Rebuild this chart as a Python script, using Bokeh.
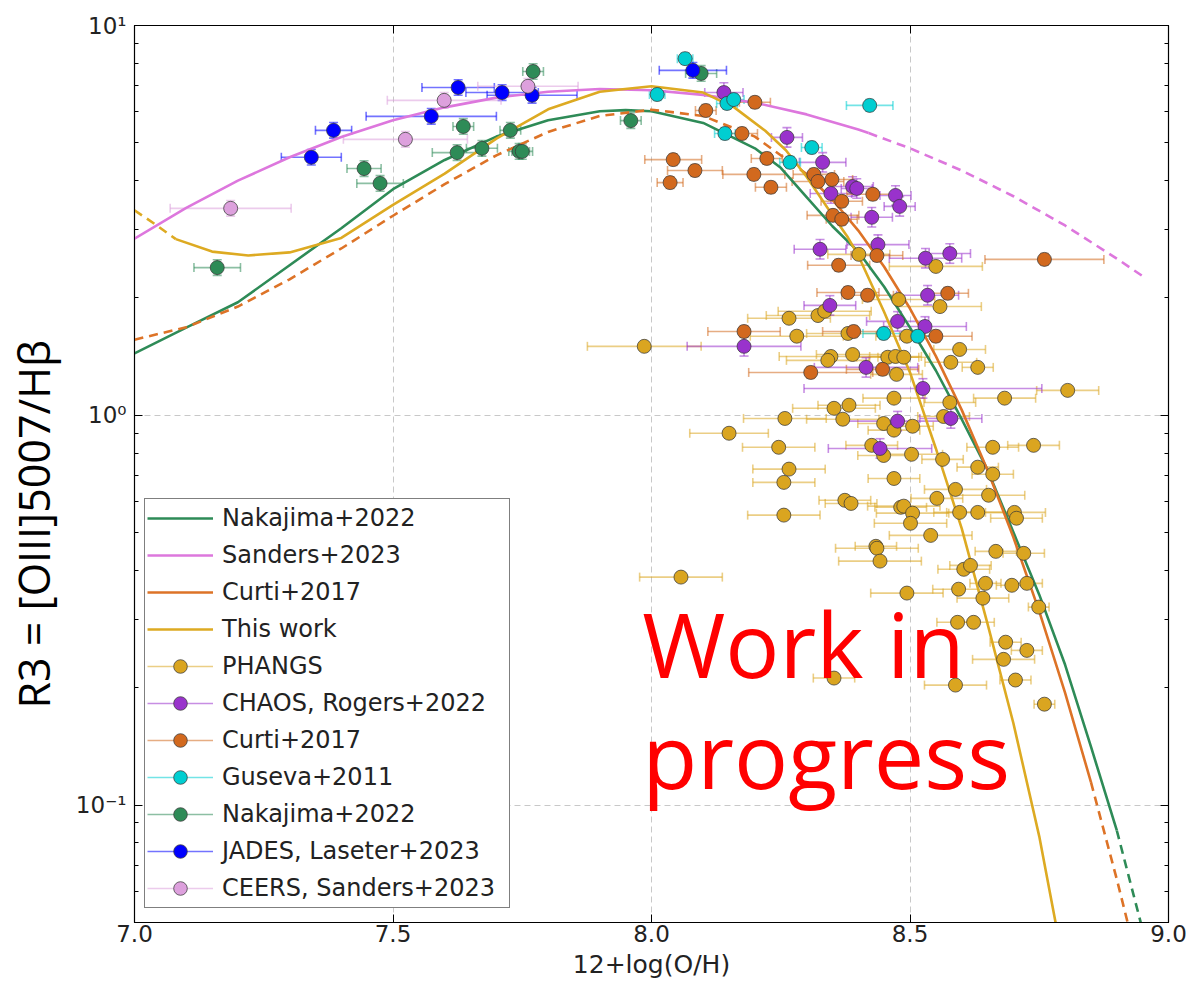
import numpy as np
from bokeh.plotting import figure
from bokeh.models import (ColumnDataSource, Whisker, TeeHead, FixedTicker, LinearAxis, LogAxis,
                          CustomJSTickFormatter, PrintfTickFormatter, Legend, LegendItem, Label)
from bokeh.embed import file_html
from bokeh.resources import INLINE

# ---------------- calibration curves (x = 12+log(O/H), values = log10 R3) ----------------
nak_x = [7.0, 7.1, 7.2, 7.3, 7.4, 7.5, 7.6, 7.7, 7.8, 7.9, 7.95, 8.0, 8.1, 8.2, 8.25, 8.3, 8.35,
         8.4, 8.45, 8.5, 8.55, 8.6, 8.65, 8.7, 8.75, 8.8, 8.85, 8.9, 8.95]
nak_log = [0.159, 0.225, 0.29, 0.385, 0.48, 0.58, 0.655, 0.715, 0.757, 0.78, 0.783, 0.78, 0.75,
           0.685, 0.635, 0.56, 0.485, 0.42, 0.33, 0.225, 0.115, -0.01, -0.14, -0.30, -0.46,
           -0.64, -0.85, -1.065, -1.32]
nak_valid = (7.0, 8.9)

san_x = [7.0, 7.1, 7.2, 7.3, 7.4, 7.5, 7.6, 7.7, 7.8, 7.9, 8.0, 8.1, 8.2, 8.3, 8.4, 8.42,
         8.5, 8.6, 8.7, 8.8, 8.9, 8.95]
san_log = [0.453, 0.532, 0.602, 0.662, 0.714, 0.757, 0.790, 0.815, 0.830, 0.837, 0.834, 0.822,
           0.802, 0.772, 0.733, 0.724, 0.685, 0.628, 0.562, 0.487, 0.402, 0.357]
san_valid = (7.0, 8.42)

cur_x = [7.0, 7.1, 7.2, 7.3, 7.4, 7.5, 7.6, 7.7, 7.8, 7.9, 8.0, 8.1, 8.2, 8.3, 8.35, 8.4, 8.45,
         8.5, 8.55, 8.6, 8.65, 8.7, 8.75, 8.8, 8.85, 8.9, 8.93]
cur_log = [0.194, 0.226, 0.279, 0.349, 0.428, 0.512, 0.593, 0.667, 0.727, 0.768, 0.784, 0.768,
           0.715, 0.619, 0.553, 0.474, 0.381, 0.274, 0.152, 0.014, -0.141, -0.313, -0.503,
           -0.712, -0.941, -1.190, -1.349]
cur_valid = (8.3, 8.85)

tw_x = [7.0, 7.04, 7.08, 7.15, 7.22, 7.3, 7.4, 7.5, 7.6, 7.7, 7.8, 7.9, 7.94, 8.0, 8.1, 8.16,
        8.22, 8.26, 8.3, 8.34, 8.38, 8.4, 8.45, 8.5, 8.55, 8.6, 8.65, 8.7, 8.75, 8.79]
tw_log = [0.526, 0.49, 0.452, 0.42, 0.41, 0.418, 0.455, 0.54, 0.62, 0.71, 0.785, 0.83, 0.836,
          0.844, 0.828, 0.79, 0.73, 0.68, 0.612, 0.533, 0.456, 0.41, 0.265, 0.11, -0.085,
          -0.29, -0.535, -0.79, -1.08, -1.36]
tw_valid = (7.08, 8.79)

# ---------------- data sets: x, log10 R3, x error ----------------
phangs_x = [7.986, 8.401, 8.266, 8.322, 8.335, 8.281, 8.380, 8.347, 8.341, 8.389, 8.457, 8.472,
            8.488, 8.474, 8.469, 8.353, 8.382, 8.258, 8.370, 8.449, 8.469, 8.150, 8.246, 8.426,
            8.449, 8.266, 8.256, 8.469, 8.374, 8.386, 8.256, 8.434, 8.482, 8.503, 8.563, 8.631,
            8.660, 8.588, 8.552, 8.652, 8.488, 8.505, 8.501, 8.596, 8.631, 8.702, 8.706, 8.540,
            8.436, 8.442, 8.666, 8.720, 8.604, 8.617, 8.494, 8.594, 8.646, 8.641, 8.697, 8.726,
            8.749, 8.592, 8.623, 8.685, 8.726, 8.681, 8.353, 8.704, 8.588, 8.760, 8.550, 8.478,
            8.558, 8.494, 8.596, 8.579, 8.631, 8.805, 8.577, 8.683, 8.565, 8.505, 8.660, 8.739,
            8.057]
phangs_log = [0.177, 0.413, 0.249, 0.256, 0.267, 0.203, 0.210, 0.151, 0.141, 0.156, 0.149, 0.151,
              0.149, 0.105, 0.044, 0.018, 0.026, -0.008, -0.010, -0.021, -0.038, -0.046, -0.082,
              -0.077, -0.103, -0.138, -0.172, -0.162, -0.218, -0.226, -0.256, -0.336, -0.236,
              -0.100, -0.113, -0.133, -0.151, -0.190, -0.213, -0.205, -0.233, -0.251, -0.277,
              -0.249, -0.249, -0.249, -0.264, -0.308, -0.341, -0.374, -0.349, -0.354, -0.395,
              -0.385, -0.456, -0.446, -0.431, -0.469, -0.436, -0.431, -0.492, -0.531, -0.531,
              -0.582, -0.603, -0.626, -0.674, -0.679, -0.692, -0.741, 0.382, 0.297, 0.279, 0.203,
              0.169, 0.136, 0.123, 0.064, 0.033, 0.044, -0.003, -0.028, -0.082, -0.077, -0.415]
phangs_xerr = [0.11, 0.06, 0.08, 0.10, 0.09, 0.09, 0.08, 0.10, 0.08, 0.07, 0.06, 0.05, 0.05, 0.05,
               0.06, 0.08, 0.06, 0.08, 0.07, 0.05, 0.05, 0.076, 0.07, 0.05, 0.05, 0.07, 0.06, 0.05,
               0.05, 0.05, 0.07, 0.04, 0.05, 0.06, 0.04, 0.04, 0.04, 0.06, 0.05, 0.07, 0.07, 0.07,
               0.07, 0.05, 0.06, 0.06, 0.05, 0.08, 0.08, 0.08, 0.04, 0.04, 0.05, 0.04, 0.07, 0.05,
               0.03, 0.05, 0.03, 0.03, 0.02, 0.04, 0.04, 0.03, 0.03, 0.06, 0.04, 0.03, 0.06, 0.02,
               0.09, 0.07, 0.08, 0.06, 0.05, 0.05, 0.03, 0.06, 0.05, 0.06, 0.05, 0.04, 0.05, 0.05,
               0.08]
phangs_yerr = 0.0

chaos_x = [8.140, 8.262, 8.331, 8.347, 8.389, 8.397, 8.472, 8.480, 8.426, 8.438, 8.326, 8.530,
           8.577, 8.534, 8.476, 8.529, 8.415, 8.525, 8.579, 8.476, 8.442, 8.179, 8.345]
chaos_log = [0.828, 0.713, 0.649, 0.569, 0.587, 0.582, 0.564, 0.536, 0.508, 0.438, 0.426, 0.403,
             0.415, 0.308, 0.241, 0.228, 0.123, 0.069, -0.008, -0.015, -0.085, 0.177, 0.282]
chaos_xerr = [0.037, 0.03, 0.045, 0.04, 0.04, 0.03, 0.03, 0.03, 0.04, 0.06, 0.05, 0.07, 0.04,
              0.06, 0.06, 0.08, 0.10, 0.23, 0.06, 0.10, 0.10, 0.11, 0.05]
chaos_yerr = 0.025

curti_x = [8.042, 8.084, 8.036, 8.105, 8.200, 8.175, 8.223, 8.198, 8.231, 8.314, 8.322, 8.349,
           8.368, 8.351, 8.368, 8.362, 8.428, 8.436, 8.760, 8.418, 8.573, 8.550, 8.447, 8.179,
           8.380, 8.391, 8.308]
curti_log = [0.656, 0.628, 0.597, 0.782, 0.803, 0.723, 0.659, 0.618, 0.585, 0.618, 0.600, 0.605,
             0.549, 0.513, 0.503, 0.385, 0.567, 0.410, 0.400, 0.308, 0.313, 0.203, 0.118, 0.215,
             0.315, 0.215, 0.110]
curti_xerr = [0.055, 0.053, 0.025, 0.02, 0.03, 0.03, 0.03, 0.06, 0.03, 0.04, 0.05, 0.04, 0.04,
              0.05, 0.03, 0.06, 0.05, 0.05, 0.115, 0.05, 0.04, 0.07, 0.07, 0.07, 0.06, 0.06, 0.12]
curti_yerr = 0.015

guseva_x = [8.011, 8.065, 8.146, 8.159, 8.142, 8.268, 8.310, 8.422, 8.449, 8.515]
guseva_log = [0.823, 0.915, 0.800, 0.810, 0.723, 0.649, 0.687, 0.795, 0.210, 0.203]
guseva_xerr = [0.015, 0.015, 0.02, 0.02, 0.02, 0.02, 0.02, 0.045, 0.04, 0.03]
guseva_yerr = 0.015

nakd_x = [7.160, 7.444, 7.475, 7.636, 7.624, 7.672, 7.727, 7.744, 7.750, 7.771, 7.960, 8.096]
nakd_log = [0.379, 0.633, 0.595, 0.741, 0.674, 0.685, 0.731, 0.677, 0.677, 0.882, 0.756, 0.877]
nakd_xerr = [0.045, 0.033, 0.045, 0.02, 0.048, 0.03, 0.02, 0.02, 0.02, 0.02, 0.02, 0.03]
nakd_yerr = 0.02

jades_x = [7.342, 7.385, 7.574, 7.626, 7.711, 7.769, 8.080]
jades_log = [0.662, 0.731, 0.767, 0.841, 0.828, 0.821, 0.885]
jades_xerr = [0.058, 0.035, 0.126, 0.07, 0.07, 0.087, 0.065]
jades_yerr = 0.02

ceers_x = [7.186, 7.524, 7.599, 7.761]
ceers_log = [0.531, 0.708, 0.808, 0.844]
ceers_xerr = [0.117, 0.12, 0.11, 0.097]
ceers_yerr = 0.02

x_ticks = [7.0, 7.5, 8.0, 8.5, 9.0]
y_ticks = [0.1, 1.0, 10.0]
y_minor = [0.05, 0.06, 0.07, 0.08, 0.09, 0.2, 0.3, 0.4, 0.5, 0.6, 0.7, 0.8, 0.9,
           2, 3, 4, 5, 6, 7, 8, 9]

# ---------------- figure ----------------
p = figure(width=1190, height=986, x_range=(7.0, 9.0), y_range=(0.05, 10.0), y_axis_type="log",
           output_backend="svg", toolbar_location=None,
           min_border_left=133, min_border_right=22, min_border_top=25, min_border_bottom=64)
p.background_fill_color = "white"
p.border_fill_color = "white"
p.outline_line_color = "black"
p.outline_line_width = 1.2

xt = FixedTicker(ticks=x_ticks)
yt = FixedTicker(ticks=y_ticks, minor_ticks=y_minor)
sup_fmt = CustomJSTickFormatter(code="""
const e = Math.round(Math.log10(tick));
const s = {"-2": "\u207b\u00b2", "-1": "\u207b\u00b9", "0": "\u2070", "1": "\u00b9", "2": "\u00b2"};
return "10" + s[String(e)];
""")

for ax in p.xaxis:
    ax.ticker = xt
    ax.formatter = PrintfTickFormatter(format="%.1f")
for ax in p.yaxis:
    ax.ticker = yt
    ax.formatter = sup_fmt
for ax in list(p.xaxis) + list(p.yaxis):
    ax.major_tick_in = 8
    ax.major_tick_out = 0
    ax.minor_tick_in = 4
    ax.minor_tick_out = 0
    ax.axis_line_color = "black"
    ax.major_tick_line_color = "black"
    ax.major_label_text_font = "DejaVu Sans"
    ax.major_label_text_font_size = "23px"
    ax.major_label_text_color = "#222222"
    ax.major_label_standoff = 8
for ax in p.xaxis:
    ax.minor_tick_line_color = None
    ax.major_label_standoff = 2
for ax in p.yaxis:
    ax.minor_tick_line_color = "black"

p.xaxis.axis_label = "12+log(O/H)"
p.xaxis.axis_label_text_font = "DejaVu Sans"
p.xaxis.axis_label_text_font_size = "25px"
p.xaxis.axis_label_text_font_style = "normal"
p.xaxis.axis_label_text_color = "#222222"
p.xaxis.axis_label_standoff = 5

# y title: trailing no-break spaces shift the visible text toward the bottom, as in the original
p.yaxis.axis_label = "R3 = [OIII]5007/H\u03b2" + "\u00a0" * 9
p.yaxis.axis_label_text_font = "Open Sans"
p.yaxis.axis_label_text_font_size = "43px"
p.yaxis.axis_label_text_font_style = "normal"
p.yaxis.axis_label_text_color = "black"
p.yaxis.axis_label_standoff = 10

blank = CustomJSTickFormatter(code="return '';")
top = LinearAxis(ticker=xt, formatter=blank, major_label_text_font_size="0px",
                 major_tick_in=8, major_tick_out=0, minor_tick_line_color=None,
                 axis_line_color="black", major_label_standoff=0)
right = LogAxis(ticker=yt, formatter=blank, major_label_text_font_size="0px",
                major_tick_in=8, major_tick_out=0, minor_tick_in=4, minor_tick_out=0,
                axis_line_color="black", major_label_standoff=0)
p.add_layout(top, "above")
p.add_layout(right, "right")

p.xgrid.ticker = FixedTicker(ticks=[7.5, 8.0, 8.5])
p.ygrid.ticker = FixedTicker(ticks=[0.1, 1.0])
for g in (p.xgrid, p.ygrid):
    g.grid_line_color = "#c8c8c8"
    g.grid_line_dash = "6 4"
    g.grid_line_width = 1
p.ygrid.minor_grid_line_color = None


def curve(xs, ls, valid, color, width=2.6, dash_out="9 6"):
    xs = np.array(xs)
    ys = 10 ** np.array(ls)
    lo, hi = valid
    eps = 1e-9
    m_in = (xs >= lo - eps) & (xs <= hi + eps)
    m_lo = xs <= lo + eps
    m_hi = xs >= hi - eps
    solid = p.line(xs[m_in], ys[m_in], line_color=color, line_width=width)
    if m_lo.sum() > 1:
        p.line(xs[m_lo], ys[m_lo], line_color=color, line_width=width, line_dash=dash_out)
    if m_hi.sum() > 1:
        p.line(xs[m_hi], ys[m_hi], line_color=color, line_width=width, line_dash=dash_out)
    return solid


c_nak = "#2E8B57"
c_san = "#DD77DD"
c_cur = "#DD7327"
c_tw = "#DDAA22"

r_nak = curve(nak_x, nak_log, nak_valid, c_nak)
r_san = curve(san_x, san_log, san_valid, c_san)
r_cur = curve(cur_x, cur_log, cur_valid, c_cur)
r_tw = curve(tw_x, tw_log, tw_valid, c_tw)


def dataset(xs, ls, xerr, yerr, color):
    xs = np.array(xs, dtype=float)
    ys = 10 ** np.array(ls, dtype=float)
    xe = np.array(xerr, dtype=float)
    src = ColumnDataSource(dict(x=xs, y=ys, xl=xs - xe, xu=xs + xe,
                                yl=ys * 10 ** (-yerr), yu=ys * 10 ** yerr))
    kw = dict(line_color=color, line_alpha=0.55, line_width=1.6)
    p.add_layout(Whisker(source=src, base="y", lower="xl", upper="xu", dimension="width",
                         lower_head=TeeHead(size=9, **kw), upper_head=TeeHead(size=9, **kw), **kw))
    if yerr > 0:
        p.add_layout(Whisker(source=src, base="x", lower="yl", upper="yu", dimension="height",
                             lower_head=TeeHead(size=9, **kw), upper_head=TeeHead(size=9, **kw), **kw))
    # legend-only stand-in for the error bar (NaN data, draws nothing in the plot)
    dummy = p.line(x=[np.nan, np.nan], y=[np.nan, np.nan], line_color=color, line_alpha=0.55,
                   line_width=1.6)
    r = p.scatter("x", "y", source=src, size=14, fill_color=color, fill_alpha=1.0,
                  line_color="#3a3a3a", line_alpha=0.75, line_width=1.0)
    return [dummy, r]


r_ph = dataset(phangs_x, phangs_log, phangs_xerr, phangs_yerr, "#DAA520")
r_ch = dataset(chaos_x, chaos_log, chaos_xerr, chaos_yerr, "#9932CC")
r_cu = dataset(curti_x, curti_log, curti_xerr, curti_yerr, "#D2691E")
r_gu = dataset(guseva_x, guseva_log, guseva_xerr, guseva_yerr, "#00CED1")
r_nd = dataset(nakd_x, nakd_log, nakd_xerr, nakd_yerr, "#2E8B57")
r_ja = dataset(jades_x, jades_log, jades_xerr, jades_yerr, "#0000FF")
r_ce = dataset(ceers_x, ceers_log, ceers_xerr, ceers_yerr, "#DDA0DD")

legend = Legend(items=[
    LegendItem(label="Nakajima+2022", renderers=[r_nak]),
    LegendItem(label="Sanders+2023", renderers=[r_san]),
    LegendItem(label="Curti+2017", renderers=[r_cur]),
    LegendItem(label="This work", renderers=[r_tw]),
    LegendItem(label="PHANGS", renderers=r_ph),
    LegendItem(label="CHAOS, Rogers+2022", renderers=r_ch),
    LegendItem(label="Curti+2017", renderers=r_cu),
    LegendItem(label="Guseva+2011", renderers=r_gu),
    LegendItem(label="Nakajima+2022", renderers=r_nd),
    LegendItem(label="JADES, Laseter+2023", renderers=r_ja),
    LegendItem(label="CEERS, Sanders+2023", renderers=r_ce),
], location=(10, 14))
legend.label_text_font = "DejaVu Sans"
legend.label_text_font_size = "24px"
legend.label_text_color = "#222222"
legend.glyph_width = 66
legend.glyph_height = 34
legend.label_height = 34
legend.label_width = 285
legend.label_standoff = 9
legend.spacing = 3
legend.padding = 2
legend.margin = 0
legend.border_line_color = "black"
legend.border_line_width = 1.2
legend.background_fill_color = "white"
legend.background_fill_alpha = 1.0
p.add_layout(legend, "center")

p.add_layout(Label(x=7.982, y=0.260, text="Work in", text_color="#FF0000",
                   text_font="Open Sans", text_font_size="90px", text_baseline="alphabetic"))
p.add_layout(Label(x=7.982, y=0.135, text="progress", text_color="#FF0000",
                   text_font="Open Sans", text_font_size="90px", text_baseline="alphabetic"))

open("out.html", "w").write(file_html(p, INLINE))
